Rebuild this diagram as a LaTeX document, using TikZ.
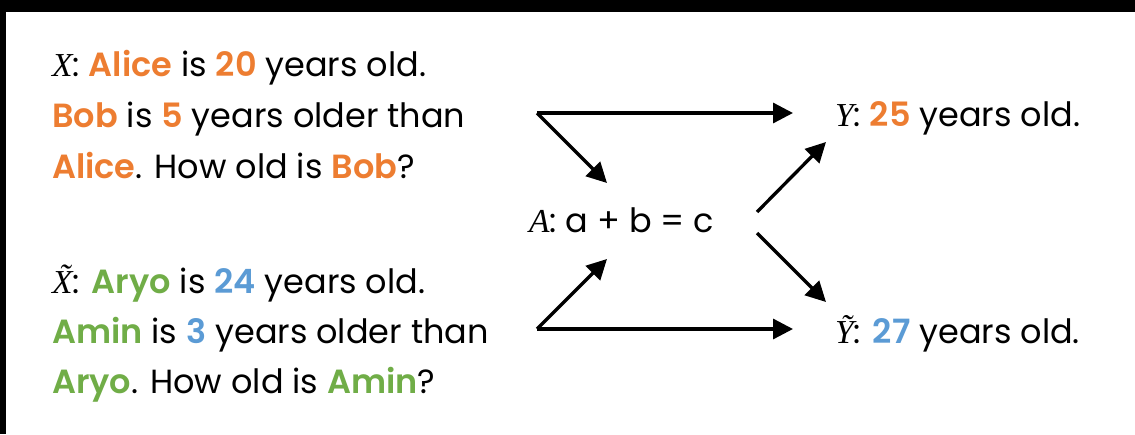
\documentclass[tikz,border=0pt]{standalone}
\usepackage{fontspec}
\setmainfont{Poppins}[BoldFont={Poppins SemiBold}]
\newfontfamily\tnr{Liberation Serif}
\usetikzlibrary{arrows.meta}
\definecolor{orng}{HTML}{ED7D31}
\definecolor{grn}{HTML}{70AD47}
\definecolor{blu}{HTML}{5B9BD5}
\newcommand{\og}[1]{\textcolor{orng}{\textbf{#1}}}
\newcommand{\gr}[1]{\textcolor{grn}{\textbf{#1}}}
\newcommand{\bl}[1]{\textcolor{blu}{\textbf{#1}}}
\newcommand{\vr}[1]{{\tnr\itshape #1}}
\begin{document}
\begin{tikzpicture}[x=1pt,y=-1pt,
  txt/.style={anchor=base west, inner sep=0pt, font=\fontsize{33.5}{40}\selectfont},
  arr/.style={line width=3.3pt, -{Triangle[length=20pt,width=20pt]}}]
\fill[white] (0,0) rectangle (1135,434);
\useasboundingbox (0,0) rectangle (1135,434);
\fill[black] (0,0) rectangle (1135,12);
\fill[black] (0,0) rectangle (6,434);
% left blocks
\node[txt] (x1) at (52,76) {\vr{X}: \og{Alice} is \og{20} years old.};
\node[txt] (x2) at (52,127) {\og{Bob} is \og{5} years older than};
\node[txt] (x3) at (52,178) {\og{Alice}. How old is \og{Bob}?};
\node[txt] (t1) at (52,293) {\vr{\~{X}}: \gr{Aryo} is \bl{24} years old.};
\node[txt] (t2) at (52,343) {\gr{Amin} is \bl{3} years older than};
\node[txt] (t3) at (52,393) {\gr{Aryo}. How old is \gr{Amin}?};
% middle
\node[txt] (A) at (529,232) {\vr{A}: a + b = c};
% right
\node[txt] (Y) at (835,126) {\vr{Y}: \og{25} years old.};
\node[txt] (Yt) at (835,343) {\vr{\~{Y}}: \bl{27} years old.};
% connector points
\coordinate (fT) at (537,113);
\coordinate (fB) at (537,329);
\coordinate (yIn) at (793,113);
\coordinate (ytIn) at (793,329);
\coordinate (aInT) at (607,183);
\coordinate (aInB) at (607,259);
\coordinate (aOutT) at (757,212);
\coordinate (aOutB) at (757,233);
\coordinate (yInD) at (826,142);
\coordinate (ytInD) at (826,302);
\draw[arr] (fT) -- (yIn);
\draw[arr] (fT) -- (aInT);
\draw[arr] (fB) -- (ytIn);
\draw[arr] (fB) -- (aInB);
\draw[arr] (aOutT) -- (yInD);
\draw[arr] (aOutB) -- (ytInD);
\end{tikzpicture}
\end{document}
